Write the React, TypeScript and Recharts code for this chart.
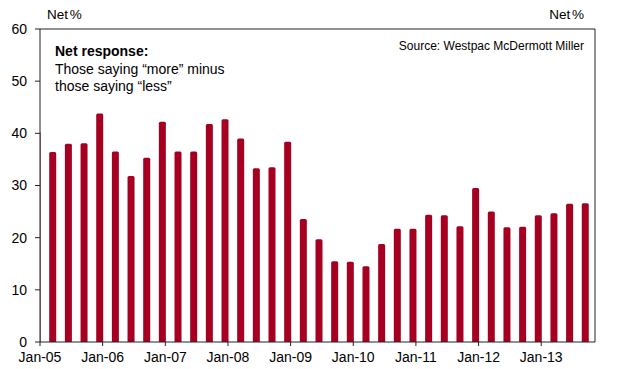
import { BarChart, Bar, XAxis, YAxis, ReferenceLine } from "recharts";

// ---------------------------------------------------------------------------
// Data
// ---------------------------------------------------------------------------

// Dec-04 sits just left of the axis start and is clipped, as in the source chart
const quarters = [
  "Dec-04",
  "Mar-05", "Jun-05", "Sep-05", "Dec-05",
  "Mar-06", "Jun-06", "Sep-06", "Dec-06",
  "Mar-07", "Jun-07", "Sep-07", "Dec-07",
  "Mar-08", "Jun-08", "Sep-08", "Dec-08",
  "Mar-09", "Jun-09", "Sep-09", "Dec-09",
  "Mar-10", "Jun-10", "Sep-10", "Dec-10",
  "Mar-11", "Jun-11", "Sep-11", "Dec-11",
  "Mar-12", "Jun-12", "Sep-12", "Dec-12",
  "Mar-13", "Jun-13", "Sep-13",
];

const netResponse = [
  40.3,
  36.4, 38.0, 38.1, 43.8,
  36.5, 31.8, 35.3, 42.2,
  36.5, 36.5, 41.8, 42.7,
  39.0, 33.3, 33.5, 38.4,
  23.6, 19.7, 15.5, 15.4,
  14.5, 18.8, 21.7, 21.7,
  24.4, 24.3, 22.2, 29.5,
  25.0, 22.0, 22.1, 24.3,
  24.7, 26.5, 26.6,
];

const yearTicks = [
  "Jan-05", "Jan-06", "Jan-07", "Jan-08", "Jan-09",
  "Jan-10", "Jan-11", "Jan-12", "Jan-13",
];

const yTicks = [0, 10, 20, 30, 40, 50, 60];

// ---------------------------------------------------------------------------
// Helpers
// ---------------------------------------------------------------------------

const MONTHS = ["Jan", "Feb", "Mar", "Apr", "May", "Jun", "Jul", "Aug", "Sep", "Oct", "Nov", "Dec"];

// months since Jan-05
function monthIndex(label: string): number {
  const m = MONTHS.indexOf(label.slice(0, 3));
  const y = parseInt(label.slice(4), 10) - 5;
  return y * 12 + m;
}

const data = quarters.map((q, i) => ({
  t: monthIndex(q) + 0.5, // mid-month
  label: q,
  value: netResponse[i],
}));

const xTicks = yearTicks.map(monthIndex);

const FONT = '"Liberation Sans", Arial, sans-serif';
const AXIS = "#222";
const BAR = "#A50021";

const tickStyle = { fill: "#000", fontSize: 14, fontFamily: FONT };

// ---------------------------------------------------------------------------
// Component
// ---------------------------------------------------------------------------

export default function App() {
  return (
    <div style={{ position: "absolute", left: 0, top: 0, width: 627, height: 369, background: "#fff", fontFamily: FONT }}>
      <BarChart
        width={627}
        height={369}
        data={data}
        margin={{ top: 29, right: 0, left: 0, bottom: 0 }}
      >
        <XAxis
          dataKey="t"
          type="number"
          domain={[0, 106.3]}
          ticks={xTicks}
          tickFormatter={(v: number) => yearTicks[xTicks.indexOf(v)] ?? ""}
          tick={tickStyle}
          tickSize={4}
          tickMargin={6}
          axisLine={{ stroke: AXIS }}
          tickLine={{ stroke: AXIS }}
          height={27}
          interval={0}
          allowDataOverflow
        />
        <YAxis
          yAxisId="left"
          domain={[0, 60]}
          ticks={yTicks}
          tick={tickStyle}
          tickSize={5}
          tickMargin={8}
          axisLine={{ stroke: AXIS }}
          tickLine={{ stroke: AXIS }}
          width={40}
        />
        <YAxis
          yAxisId="right"
          orientation="right"
          domain={[0, 60]}
          ticks={yTicks}
          tick={tickStyle}
          tickSize={4}
          tickMargin={7}
          axisLine={{ stroke: AXIS }}
          tickLine={{ stroke: AXIS }}
          width={32}
        />
        <ReferenceLine yAxisId="left" y={60} stroke={AXIS} ifOverflow="visible" />
        <Bar
          yAxisId="left"
          dataKey="value"
          fill={BAR}
          barSize={7}
          radius={[1.5, 1.5, 0, 0]}
          isAnimationActive={false}
        />
      </BarChart>

      {/* axis titles */}
      <div style={{ position: "absolute", left: 47, top: 7, fontSize: 13.5, color: "#000", wordSpacing: -2 }}>Net %</div>
      <div style={{ position: "absolute", right: 627 - 584, top: 7, fontSize: 13.5, color: "#000", wordSpacing: -2 }}>Net %</div>

      {/* annotation */}
      <div style={{ position: "absolute", left: 55, top: 43, fontSize: 14, lineHeight: "17.5px", color: "#000" }}>
        <div style={{ fontWeight: "bold" }}>Net response:</div>
        <div>Those saying “more” minus</div>
        <div>those saying “less”</div>
      </div>

      {/* source */}
      <div style={{ position: "absolute", right: 627 - 584, top: 39, fontSize: 12, color: "#000" }}>
        Source: Westpac McDermott Miller
      </div>
    </div>
  );
}
